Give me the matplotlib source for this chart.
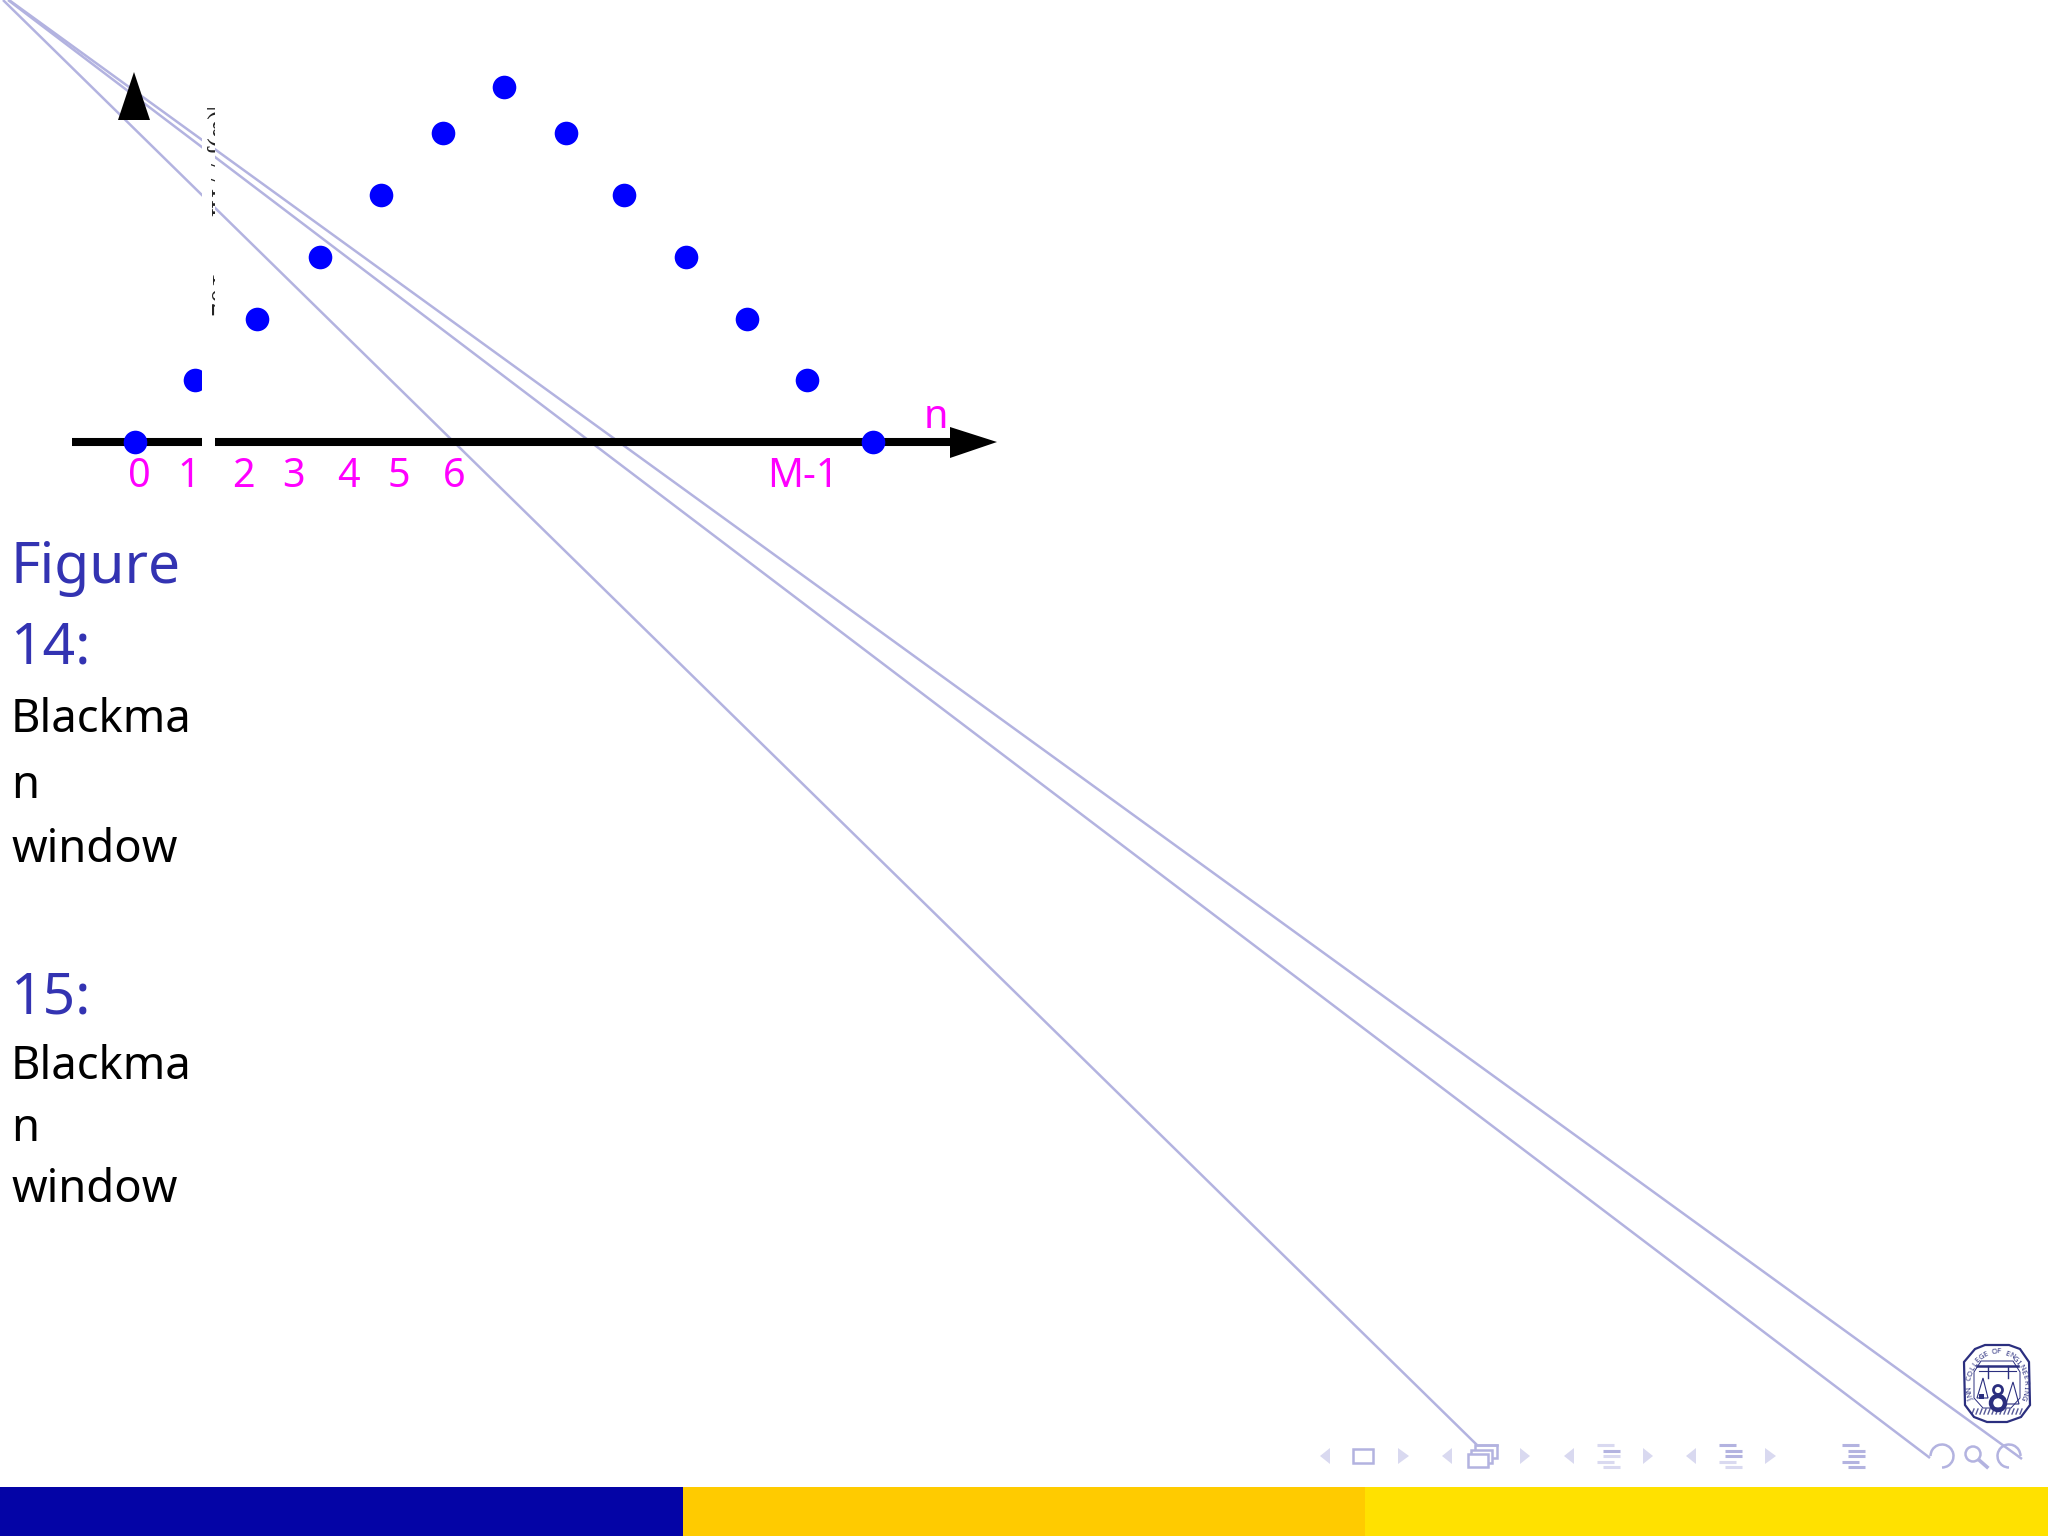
import numpy as np
import matplotlib
matplotlib.use("Agg")
import matplotlib.pyplot as plt
from matplotlib.patches import Arc, Circle, Polygon, Rectangle

# window samples
sample_pos = [0, 0.97, 1.99, 3.01, 4.0, 5.01, 6.0, 7.0, 7.95, 8.96, 9.95, 10.93, 12.0]
sample_val = [0, 0.175, 0.346, 0.521, 0.696, 0.870, 1.0, 0.870, 0.696, 0.521, 0.346, 0.175, 0]

tick_labels = ["0", "1", "2", "3", "4", "5", "6", "M-1"]
tick_px = [139, 189, 243, 294, 348, 399, 454, 803]

caption_lines = [
    ("Figure", "title", 583), ("14:", "title", 664),
    ("Blackma", "body", 732), ("n", "body", 798), ("window", "body", 862),
    ("15:", "title", 1013),
    ("Blackma", "body", 1079), ("n", "body", 1141), ("window", "body", 1202),
]

# what is left of the rotated label, top to bottom
label_bits = ["|(ω)j", "/ /", "HI", "−", "−", "1", "0", "2"]
label_y = [132, 174, 203, 248, 263, 281, 296, 310]

BLUE = "#3333b2"
NAV = "#b3b3e0"
NAV_FAINT = "#d9d9f0"
LOGO = "#2b2f7f"

plt.rcParams["font.family"] = ["Noto Sans", "DejaVu Sans"]

W, H = 2048, 1538
fig = plt.figure(figsize=(W / 100, H / 100), dpi=100)

ax = fig.add_axes([0, 0, 1, 1], zorder=1)
ax.set_xlim(0, W)
ax.set_ylim(H, 0)
ax.axis("off")

# stray hyperlink lines from the corner
for x_start, x_end, y_end in [(3, 1477, 1445), (8, 1930, 1458), (9, 2022, 1459)]:
    ax.plot([x_start, x_end], [0, y_end], color=NAV, lw=1.8, solid_capstyle="butt", zorder=1)
ax.plot([1477, 1497], [1445, 1445], color=NAV, lw=1.8, zorder=1)

# axes arrows
ax.plot([72, 950], [442, 442], color="black", lw=5.8, solid_capstyle="butt", zorder=3)
ax.add_patch(Polygon([(950, 427), (997, 442), (950, 458)], color="black", lw=0, zorder=3))
ax.add_patch(Polygon([(134, 72), (118, 120), (150, 120)], color="black", lw=0, zorder=3))

for lab, x in zip(tick_labels, tick_px):
    ax.text(x, 487, lab, color="#ff00ff", fontsize=28.5, ha="center", va="baseline")
ax.text(936, 428, "n", color="#ff00ff", fontsize=28.5, ha="center", va="baseline")

for txt, kind, y in caption_lines:
    if kind == "title":
        ax.text(11, y, txt, color=BLUE, fontsize=41, va="baseline")
    else:
        ax.text(11, y, txt, color="black", fontsize=32.7, va="baseline")

# footer bars
ax.add_patch(Rectangle((0, 1487), 683, 49, color="#0404a6", lw=0))
ax.add_patch(Rectangle((683, 1487), 682, 49, color="#ffcb00", lw=0))
ax.add_patch(Rectangle((1365, 1487), 683, 49, color="#ffe100", lw=0))


def tri(x0, x1, cy=1456, color=NAV_FAINT):
    ax.add_patch(Polygon([(x0, cy), (x1, cy - 8), (x1, cy + 8)], color=color, lw=0))


def lines_icon(x0, shades):
    offsets = [(0, 17), (6, 23), (6, 23), (0, 17), (6, 23)]
    for i, (off, col) in enumerate(zip(offsets, shades)):
        a, b = off
        ax.plot([x0 + a, x0 + b], [1445 + i * 5.6, 1445 + i * 5.6], color=col, lw=2.2,
                solid_capstyle="butt")


# navigation symbols
for x0, x1 in [(1320, 1330), (1442, 1452), (1564, 1574), (1686, 1696)]:
    tri(x0, x1)
for x0, x1 in [(1409, 1398), (1530, 1520), (1653, 1643), (1776, 1765)]:
    tri(x0, x1)
ax.add_patch(Rectangle((1353, 1449), 20, 14, fill=False, ec=NAV, lw=1.8))
ax.add_patch(Rectangle((1475, 1445), 22, 13, fill=False, ec=NAV, lw=1.8, zorder=2))
ax.add_patch(Rectangle((1471, 1450), 21, 13, fc="white", ec=NAV, lw=1.8, zorder=2))
ax.add_patch(Rectangle((1468, 1454), 20, 13, fc="white", ec=NAV, lw=1.8, zorder=2))
lines_icon(1597, [NAV_FAINT, NAV, NAV_FAINT, NAV_FAINT, NAV_FAINT])
lines_icon(1719, [NAV, NAV, NAV, NAV_FAINT, NAV_FAINT])
lines_icon(1842, [NAV, NAV, NAV, NAV, NAV])
ax.add_patch(Arc((1942, 1456), 23, 23, theta1=180, theta2=450, color=NAV, lw=1.8))
ax.add_patch(Arc((2009, 1456), 23, 23, theta1=90, theta2=360, color=NAV, lw=1.8))
ax.add_patch(Circle((1973, 1454), 7.5, fill=False, ec=NAV, lw=1.8))
ax.plot([1979, 1987], [1460, 1467], color=NAV, lw=2.6)

# college crest
shield = [(1975, 1349), (1985, 1345), (2009, 1345), (2020, 1349), (2029, 1362), (2030, 1405),
          (2021, 1417), (2007, 1422), (1987, 1422), (1974, 1417), (1965, 1405), (1964, 1362)]
ax.add_patch(Polygon(shield, fc="white", ec=LOGO, lw=1.6, zorder=2))
inner = [(1981, 1361), (2013, 1361), (2020, 1372), (2020, 1398), (2011, 1408), (1983, 1408),
         (1974, 1398), (1974, 1372)]
ax.add_patch(Polygon(inner, fc="white", ec=LOGO, lw=0.7, zorder=2))
crest_text = "JNN COLLEGE OF ENGINEERING"
angs = np.linspace(205, -22, len(crest_text))
for ch, a in zip(crest_text, angs):
    t = np.radians(a)
    ax.text(1997 + 28 * np.cos(t), 1385 - 33 * np.sin(t), ch, fontsize=5.5, color=LOGO, weight="bold",
            ha="center", va="center", rotation=a - 90, zorder=3)
ax.plot([1977, 2018], [1366, 1366], color=LOGO, lw=1.8, zorder=3)
ax.plot([1979, 2016], [1371, 1371], color=LOGO, lw=0.8, zorder=3)
ax.plot([1988, 1988], [1366, 1378], color=LOGO, lw=1, zorder=3)
ax.plot([2008, 2008], [1366, 1378], color=LOGO, lw=1, zorder=3)
ax.add_patch(Polygon([(1983, 1378), (1977, 1398), (1988, 1398)], fill=False, ec=LOGO, lw=0.8, zorder=3))
ax.add_patch(Polygon([(2013, 1382), (2006, 1404), (2019, 1404)], fill=False, ec=LOGO, lw=0.8, zorder=3))
ax.add_patch(Rectangle((1979, 1394), 5, 5, color=LOGO, lw=0, zorder=3))
ax.add_patch(Circle((1998, 1390), 4.5, fill=False, ec=LOGO, lw=2, zorder=3))
ax.add_patch(Circle((1998, 1403), 7, fill=False, ec=LOGO, lw=3.2, zorder=3))
for x in np.arange(1972, 2024, 4):
    ax.plot([x, x + 2], [1414, 1409], color=LOGO, lw=1, alpha=0.8, zorder=3)

# window samples, on their own axes scaled to the baseline and the peak
ax_win = fig.add_axes([135 / W, 1 - 442 / H, 738 / W, 355 / H], zorder=2)
ax_win.set_xlim(0, 12)
ax_win.set_ylim(0, 1)
ax_win.axis("off")
ax_win.plot(sample_pos, sample_val, "o", color="#0000ff", ms=17, mew=0, clip_on=False)

# top layer: the white strip and the clipped rotated label behind it
ax_top = fig.add_axes([0, 0, 1, 1], zorder=3)
ax_top.set_xlim(0, W)
ax_top.set_ylim(H, 0)
ax_top.axis("off")
ax_top.patch.set_alpha(0)
ax_top.add_patch(Rectangle((202, 110), 13, 340, color="white", lw=0))
clip = Rectangle((206, 105), 9, 215, transform=ax_top.transData)
for bit, y in zip(label_bits, label_y):
    t = ax_top.text(204, y, bit, family="Liberation Serif", fontsize=20, rotation=270, ha="left", va="center",
                    color="#222222", clip_on=True)
    t.set_clip_path(clip)

fig.savefig("out.png", dpi=100)
